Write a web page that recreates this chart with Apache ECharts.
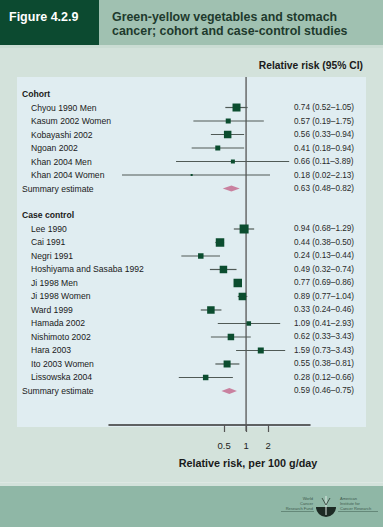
<!DOCTYPE html>
<html><head><meta charset="utf-8">
<script src="https://cdn.jsdelivr.net/npm/echarts@6/dist/echarts.min.js"></script>
<style>html,body{margin:0;padding:0;background:#d3e2db}#c{width:383px;height:527px}</style>
</head><body><div id="c"></div><script>
// ---- data ----
const cohortStudies = ['Chyou 1990 Men','Kasum 2002 Women','Kobayashi 2002','Ngoan 2002','Khan 2004 Men','Khan 2004 Women'];
const cohortRR   = [0.74,0.57,0.56,0.41,0.66,0.18];
const cohortLow  = [0.52,0.19,0.33,0.18,0.11,0.02];
const cohortHigh = [1.05,1.75,0.94,0.94,3.89,2.13];
const cohortWeight = [8,5,7.5,5,4,2];
const cohortText = ['0.74 (0.52–1.05)','0.57 (0.19–1.75)','0.56 (0.33–0.94)','0.41 (0.18–0.94)','0.66 (0.11–3.89)','0.18 (0.02–2.13)'];
const cohortSummary = [0.63,0.48,0.82];
const cohortSummaryText = '0.63 (0.48–0.82)';

const caseStudies = ['Lee 1990','Cai 1991','Negri 1991','Hoshiyama and Sasaba 1992','Ji 1998 Men','Ji 1998 Women','Ward 1999','Hamada 2002','Nishimoto 2002','Hara 2003','Ito 2003 Women','Lissowska 2004'];
const caseRR   = [0.94,0.44,0.24,0.49,0.77,0.89,0.33,1.09,0.62,1.59,0.55,0.28];
const caseLow  = [0.68,0.38,0.13,0.32,0.69,0.77,0.24,0.41,0.33,0.73,0.38,0.12];
const caseHigh = [1.29,0.50,0.44,0.74,0.86,1.04,0.46,2.93,1.16,3.43,0.81,0.66];
const caseWeight = [9,8.5,5.5,7.5,8.5,7.5,7.5,4.5,6.5,6,7,5.5];
const caseText = ['0.94 (0.68–1.29)','0.44 (0.38–0.50)','0.24 (0.13–0.44)','0.49 (0.32–0.74)','0.77 (0.69–0.86)','0.89 (0.77–1.04)','0.33 (0.24–0.46)','1.09 (0.41–2.93)','0.62 (0.33–3.43)','1.59 (0.73–3.43)','0.55 (0.38–0.81)','0.28 (0.12–0.66)'];
const caseSummary = [0.59,0.46,0.75];
const caseSummaryText = '0.59 (0.46–0.75)';

const xTicks = [0.5,1,2];
const sectionTitles = ['Cohort','Case control'];
const summaryLabel = 'Summary estimate';

// ---- build rows ----
const FONT = '"Liberation Sans", Arial, sans-serif';
const studyRows = [], labelRows = [], valueRows = [], summaryRows = [];
let r = 0;
function addSection(title, names, rr, lo, hi, w, txt, summ, summTxt) {
  labelRows.push([r, title, 'head']); r++;
  names.forEach((n, i) => {
    labelRows.push([r, n, 'study']);
    studyRows.push([r, rr[i], lo[i], hi[i], w[i]]);
    valueRows.push([r, txt[i]]);
    r++;
  });
  labelRows.push([r, summaryLabel, 'summary']);
  summaryRows.push([r, summ[0], summ[1], summ[2]]);
  valueRows.push([r, summTxt]);
  r++;
}
addSection(sectionTitles[0], cohortStudies, cohortRR, cohortLow, cohortHigh, cohortWeight, cohortText, cohortSummary, cohortSummaryText);
r++;
addSection(sectionTitles[1], caseStudies, caseRR, caseLow, caseHigh, caseWeight, caseText, caseSummary, caseSummaryText);

const chart = echarts.init(document.getElementById('c'), null, {renderer: 'svg'});

function txt(text, x, y, opt) {
  return Object.assign({type: 'text', x: x, y: y, style: Object.assign({text: text, fill: '#222', font: '9px ' + FONT, textAlign: 'left', textVerticalAlign: 'middle'}, opt || {})});
}

chart.setOption({
  animation: false,
  backgroundColor: '#d3e2db',
  grid: {left: 109, right: 73, top: 77, bottom: 102},
  xAxis: {
    type: 'log', logBase: 2, min: 0.0133, max: 7.5,
    axisLine: {show: true, onZero: false, lineStyle: {color: '#333', width: 1.5}},
    axisTick: {show: true, customValues: xTicks, length: 7, lineStyle: {color: '#555', width: 1.2}},
    axisLabel: {show: true, customValues: xTicks, fontSize: 9.5, color: '#222', margin: 15, fontFamily: FONT, formatter: v => String(v)},
    splitLine: {show: false}, minorTick: {show: false}
  },
  yAxis: {type: 'value', min: -1.26, max: 24.52, inverse: true, show: false},
  graphic: [
    {type: 'rect', z: -10, shape: {x: 0, y: 0, width: 383, height: 527}, style: {fill: '#d3e2db'}},
    {type: 'rect', z: -9, shape: {x: 99, y: 0, width: 284, height: 45}, style: {fill: '#a0c1b1'}},
    {type: 'rect', z: -9, shape: {x: 0, y: 0, width: 99, height: 45}, style: {fill: '#0c4a30'}},
    {type: 'rect', z: -9, shape: {x: 0, y: 45, width: 383, height: 3}, style: {fill: '#cadcd3'}},
    {type: 'rect', z: -9, shape: {x: 17, y: 77, width: 349, height: 350}, style: {fill: '#e0edf1'}},
    {type: 'rect', z: -9, shape: {x: 0, y: 482, width: 383, height: 1}, style: {fill: '#dde8e3'}},
    {type: 'rect', z: -9, shape: {x: 0, y: 486, width: 383, height: 41}, style: {fill: '#8fb7a6'}},
    txt('Figure 4.2.9', 9, 17, {fill: '#ffffff', font: 'bold 12.5px ' + FONT}),
    txt('Green-yellow vegetables and stomach', 112, 17, {fill: '#1e3a2d', font: 'bold 12.4px ' + FONT}),
    txt('cancer; cohort and case-control studies', 112, 30.5, {fill: '#1e3a2d', font: 'bold 12.4px ' + FONT}),
    txt('Relative risk (95% CI)', 363, 65, {fill: '#1a1a1a', font: 'bold 10.3px ' + FONT, textAlign: 'right'}),
    txt('Relative risk, per 100 g/day', 248, 463, {fill: '#1a1a1a', font: 'bold 10.8px ' + FONT, textAlign: 'center'}),
    txt('World', 313, 498, {fill: '#3d5a4d', font: '4px ' + FONT, textAlign: 'right'}),
    txt('Cancer', 313, 503, {fill: '#3d5a4d', font: '4px ' + FONT, textAlign: 'right'}),
    txt('Research Fund', 313, 508, {fill: '#3d5a4d', font: '4px ' + FONT, textAlign: 'right'}),
    {type: 'rect', shape: {x: 281, y: 511, width: 33, height: 0.6}, style: {fill: '#3d5a4d'}},
    {type: 'sector', shape: {cx: 326, cy: 507, r0: 0, r: 10, startAngle: 0, endAngle: Math.PI}, style: {fill: '#1d2a24'}},
    {type: 'line', shape: {x1: 326, y1: 496, x2: 326, y2: 515}, style: {stroke: '#dfe9e4', lineWidth: 1}},
    {type: 'line', shape: {x1: 322, y1: 498, x2: 326, y2: 505}, style: {stroke: '#2d3a34', lineWidth: 0.8}},
    {type: 'line', shape: {x1: 330, y1: 498, x2: 326, y2: 505}, style: {stroke: '#2d3a34', lineWidth: 0.8}},
    txt('American', 340, 498, {fill: '#3d5a4d', font: '4px ' + FONT}),
    txt('Institute for', 340, 503, {fill: '#3d5a4d', font: '4px ' + FONT}),
    txt('Cancer Research', 340, 508, {fill: '#3d5a4d', font: '4px ' + FONT}),
    {type: 'rect', shape: {x: 338, y: 511, width: 40, height: 0.6}, style: {fill: '#3d5a4d'}}
  ],
  series: [
    { // reference line at RR = 1
      type: 'custom', clip: false, silent: true, z: 1,
      data: [[1]],
      encode: {x: 0},
      renderItem: function (params, api) {
        const top = api.coord([api.value(0), -1.26]);
        const bot = api.coord([api.value(0), 24.52]);
        return {type: 'line', shape: {x1: top[0], y1: top[1], x2: bot[0], y2: bot[1] + 6}, style: {stroke: '#555', lineWidth: 1.3}};
      }
    },
    { // studies: CI lines + weighted squares
      type: 'custom', clip: false, silent: true, z: 3,
      data: studyRows,
      dimensions: ['row', 'rr', 'lo', 'hi', 'w'],
      encode: {x: [1, 2, 3], y: 0},
      renderItem: function (params, api) {
        const row = api.value(0);
        const p = api.coord([api.value(1), row]);
        const a = api.coord([api.value(2), row]);
        const b = api.coord([api.value(3), row]);
        const s = api.value(4);
        return {type: 'group', children: [
          {type: 'line', shape: {x1: a[0], y1: a[1], x2: b[0], y2: b[1]}, style: {stroke: '#505a56', lineWidth: 1.2}},
          {type: 'rect', shape: {x: p[0] - s / 2, y: p[1] - s / 2, width: s, height: s}, style: {fill: '#0b4d2f'}}
        ]};
      }
    },
    { // summary diamonds
      type: 'custom', clip: false, silent: true, z: 3,
      data: summaryRows,
      encode: {x: [1, 2, 3], y: 0},
      renderItem: function (params, api) {
        const row = api.value(0);
        const p = api.coord([api.value(1), row]);
        const a = api.coord([api.value(2), row]);
        const b = api.coord([api.value(3), row]);
        return {type: 'polygon', shape: {points: [[a[0], p[1]], [p[0], p[1] - 3], [b[0], p[1]], [p[0], p[1] + 3]]}, style: {fill: '#c9819f'}};
      }
    },
    { // study / section labels
      type: 'custom', clip: false, silent: true, z: 4,
      data: labelRows,
      encode: {y: 0},
      renderItem: function (params, api) {
        const d = labelRows[params.dataIndex];
        const y = api.coord([1, d[0]])[1];
        const isHead = d[2] === 'head';
        const x = d[2] === 'study' ? 31 : 22;
        return {type: 'text', x: x, y: y, style: {text: d[1], fill: '#1a1a1a', font: (isHead ? 'bold ' : '') + '8.6px ' + FONT, textAlign: 'left', textVerticalAlign: 'middle'}};
      }
    },
    { // value labels
      type: 'custom', clip: false, silent: true, z: 4,
      data: valueRows,
      encode: {y: 0},
      renderItem: function (params, api) {
        const d = valueRows[params.dataIndex];
        const y = api.coord([1, d[0]])[1];
        return {type: 'text', x: 294, y: y, style: {text: d[1], fill: '#2a2a2a', font: '8.2px ' + FONT, textAlign: 'left', textVerticalAlign: 'middle'}};
      }
    }
  ]
});
</script></body></html>
